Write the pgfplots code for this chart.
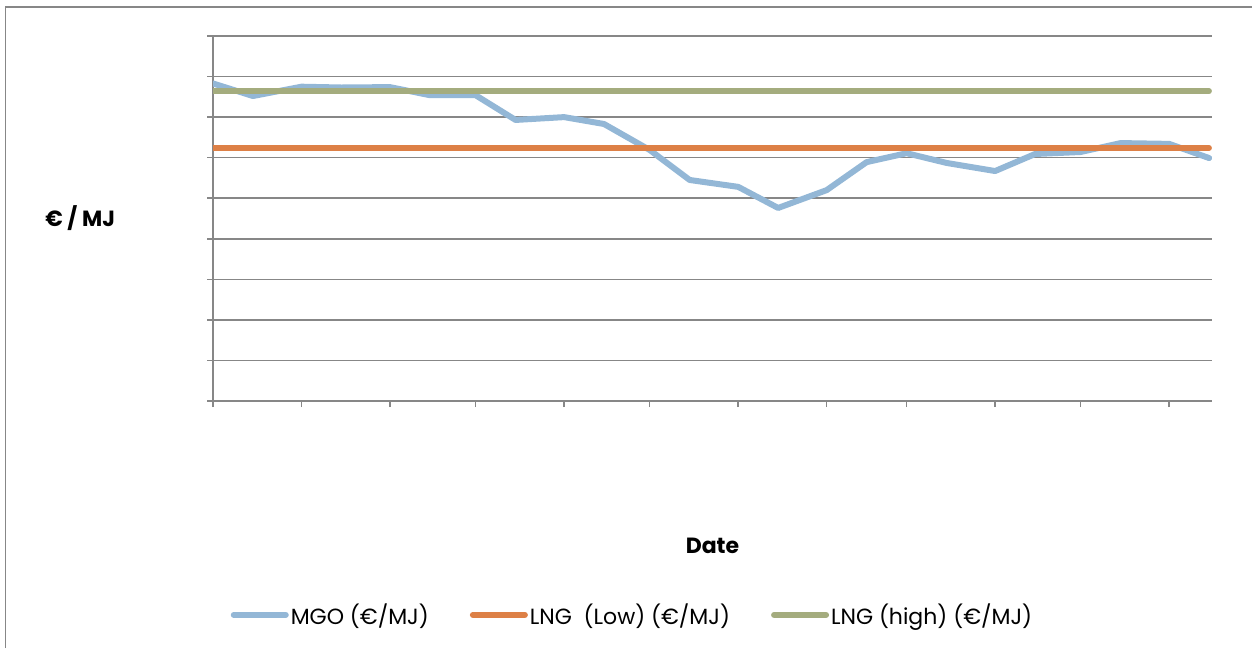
\documentclass[border=0pt]{standalone}
\usepackage{pgfplots}
\pgfplotsset{compat=1.18}
\usepackage{fontspec}
\setmainfont{Poppins}

\definecolor{mgoblue}{RGB}{147,183,214}
\definecolor{lngorange}{RGB}{221,128,70}
\definecolor{lnggreen}{RGB}{164,172,126}
\definecolor{gridgray}{RGB}{135,135,135}

% MGO price, semi-monthly, x = days since 1 July
\pgfplotstableread{
day  price
0    7.83
14   7.52
31   7.75
45   7.73
62   7.74
76   7.54
92   7.54
106  6.93
123  7.00
137  6.83
153  6.19
167  5.45
184  5.28
198  4.76
215  5.20
229  5.89
243  6.11
257  5.87
274  5.67
288  6.09
304  6.14
318  6.36
335  6.34
349  5.99
}\mgodata

\begin{document}
\begin{tikzpicture}[x=1pt,y=1pt]
\useasboundingbox (0,0) rectangle (1252,648);
\draw[gridgray, line width=1.5pt] (5.5,0) -- (5.5,641) -- (1252,641);
\begin{axis}[
  at={(213pt,247pt)}, anchor=south west,
  scale only axis, width=999pt, height=365pt,
  xmin=0, xmax=350, ymin=0, ymax=9,
  axis lines=left,
  axis line style={-, gridgray, line width=1.5pt},
  xtick={0,31,62,92,123,153,184,215,243,274,304,335},
  ytick={0,1,...,9},
  xticklabels={}, yticklabels={},
  tick align=outside,
  major tick length=6pt,
  tick style={gridgray, line width=1.5pt},
  ymajorgrids=true,
  major grid style={gridgray, line width=1.5pt},
  font=\fontsize{22}{26}\selectfont,
  xlabel={Date},
  xlabel style={at={(axis description cs:0.5,-0.397)}, anchor=center, font=\fontsize{22}{26}\selectfont\bfseries},
  ylabel={€ / MJ},
  ylabel style={rotate=-90, at={(axis description cs:-0.133,0.501)}, anchor=center, font=\fontsize{22}{26}\selectfont\bfseries},
  legend columns=3,
  legend style={
    at={(axis description cs:0.4194,-0.586)}, anchor=center,
    draw=none, fill=none,
    font=\fontsize{22}{26}\selectfont,
    nodes={inner sep=1pt},
    /tikz/every odd column/.append style={column sep=1pt},
    /tikz/every even column/.append style={column sep=40pt},
  },
  legend image code/.code={\draw[#1, line width=6pt, line cap=round] (2.5pt,0) -- (54.5pt,0);},
]
\addplot[mgoblue, line width=6pt, line join=round, line cap=round] table[x=day, y=price] {\mgodata};
\addlegendentry{MGO (€/MJ)}
\addplot[lngorange, line width=5.5pt, line cap=round] coordinates {(0,6.24) (349,6.24)};
\addlegendentry{LNG\ \ (Low) (€/MJ)}
\addplot[lnggreen, line width=5.5pt, line cap=round] coordinates {(0,7.64) (349,7.64)};
\addlegendentry{LNG (high) (€/MJ)}
\end{axis}
\end{tikzpicture}
\end{document}
